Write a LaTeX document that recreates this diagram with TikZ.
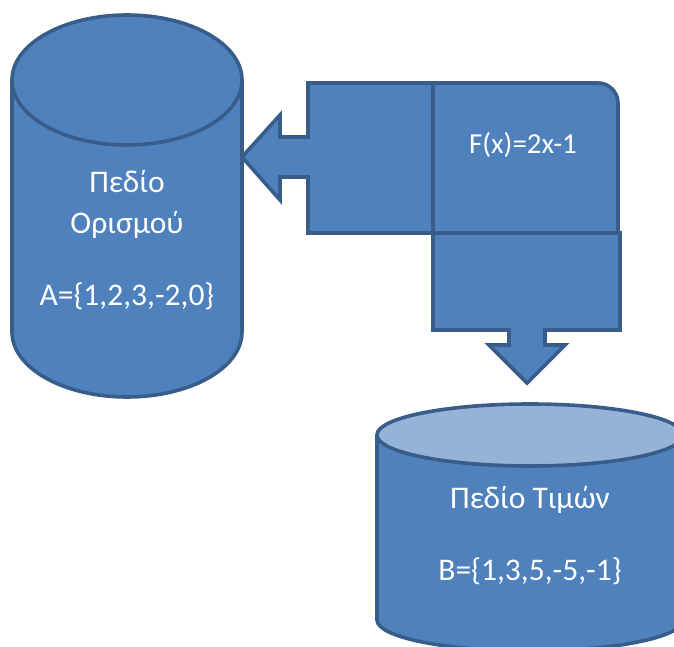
\documentclass[tikz,border=0pt]{standalone}
\usepackage{fontspec}
\setmainfont{Carlito}
\definecolor{shapefill}{HTML}{4F81BD}
\definecolor{shapeline}{HTML}{385D8A}
\definecolor{shapetop}{HTML}{95B3D7}
\tikzset{
  shp/.style={fill=shapefill,draw=shapeline,line width=3.6pt,line join=miter},
  lbl/.style={text=white,font=\fontsize{31.5}{36}\selectfont,inner sep=0pt,anchor=center},
  lblsmall/.style={text=white,font=\fontsize{29}{34}\selectfont,inner sep=0pt,anchor=center}
}
\begin{document}
\begin{tikzpicture}[x=1pt,y=-1pt]
\useasboundingbox (0,0) rectangle (674,647);
\clip (0,0) rectangle (674,647);
% ---- left cylinder (domain)
\draw[shp] (127,332) ellipse [x radius=115, y radius=65];
\fill[shapefill] (12,80) rectangle (242,332);
\draw[shapeline,line width=3.6pt] (12,80) -- (12,332) (242,80) -- (242,332);
\draw[shp] (127,80) ellipse [x radius=115, y radius=65];
% ---- right cylinder (range)
\draw[shp] (530,620) ellipse [x radius=153, y radius=31];
\fill[shapefill] (377,435) rectangle (683,620);
\draw[shapeline,line width=3.6pt] (377,435) -- (377,620) (683,435) -- (683,620);
\draw[shp,fill=shapetop] (530,435) ellipse [x radius=153, y radius=31];
% ---- left arrow callout
\draw[shp] (308,83) -- (433,83) -- (433,233) -- (308,233) -- (308,177) -- (280,177)
  -- (280,200) -- (242,157) -- (280,115) -- (280,137) -- (308,137) -- cycle;
% ---- rounded single corner rectangle
\draw[shp] (433,83) -- (598,83) .. controls (609,83) and (618,92) .. (618,103)
  -- (618,233) -- (433,233) -- cycle;
% ---- down arrow callout
\draw[shp] (433,233) -- (620,233) -- (620,330) -- (545,330) -- (545,345) -- (565,345)
  -- (527,383) -- (489,345) -- (509,345) -- (509,330) -- (433,330) -- cycle;
% ---- texts
\node[lbl] (d1) at (127,182) {Πεδίο};
\node[lbl] (d2) at (127,225) {Ορισμού};
\node[lbl] (d3) at (127,296) {A=\{1,2,3,-2,0\}};
\node[lblsmall] (f) at (523,145) {F(x)=2x-1};
\node[lbl] (r1) at (530,500) {Πεδίο Τιμών};
\node[lbl] (r2) at (530,571) {B=\{1,3,5,-5,-1\}};
\end{tikzpicture}
\end{document}
